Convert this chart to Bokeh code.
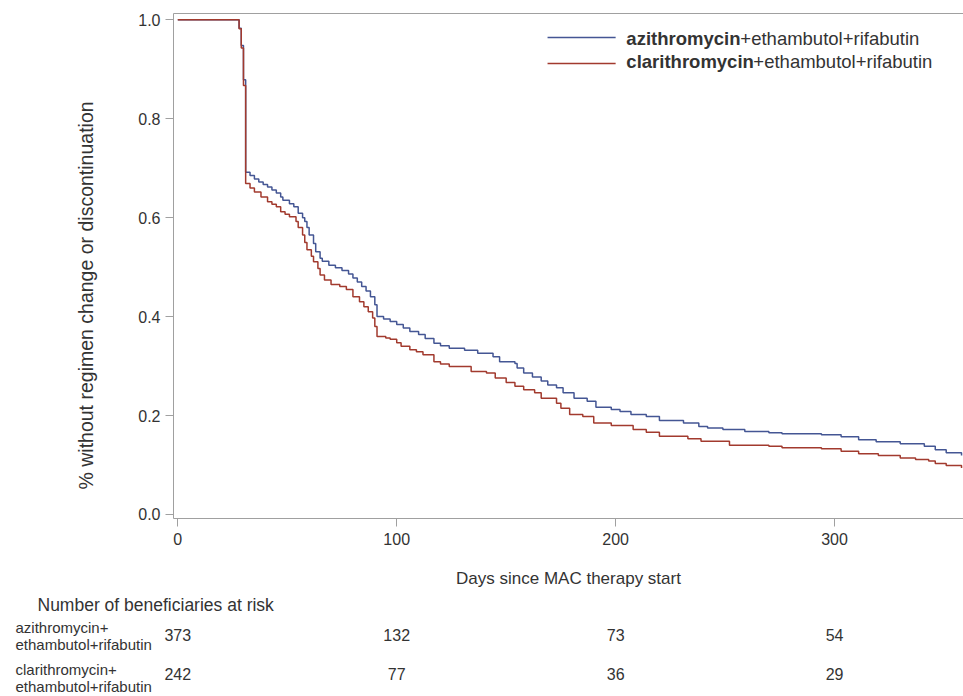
from bokeh.plotting import figure
from bokeh.models import Range1d, FixedTicker, PrintfTickFormatter, LinearAxis, Title
from bokeh.layouts import column
from bokeh.embed import file_html
from bokeh.resources import INLINE
from bokeh.core.properties import value

# ---------------- data ----------------
azi_days = [0, 28, 29, 30, 31, 33, 35, 37, 39, 41, 43, 45, 47, 48, 51, 53, 55, 57, 58, 59,
            60, 62, 63, 65, 66, 69, 72, 75, 78, 80, 82, 84, 86, 88, 90, 91, 94, 97, 100,
            103, 106, 110, 113, 117, 120, 124, 131, 137, 144, 147, 154, 155, 158, 162,
            166, 169, 173, 176, 181, 187, 191, 198, 202, 207, 214, 220, 231, 238, 242,
            249, 259, 270, 276, 294, 303, 311, 319, 330, 341, 346, 351, 358]
azi_surv = [1.0, 0.983, 0.948, 0.879, 0.692, 0.685, 0.678, 0.672, 0.667, 0.662, 0.656,
            0.650, 0.642, 0.635, 0.628, 0.622, 0.609, 0.600, 0.592, 0.580, 0.565, 0.548,
            0.531, 0.518, 0.512, 0.504, 0.499, 0.493, 0.486, 0.478, 0.470, 0.461, 0.452,
            0.440, 0.424, 0.400, 0.395, 0.390, 0.384, 0.377, 0.370, 0.364, 0.356, 0.346,
            0.341, 0.336, 0.332, 0.326, 0.319, 0.309, 0.305, 0.296, 0.286, 0.278, 0.270,
            0.262, 0.256, 0.246, 0.235, 0.229, 0.217, 0.212, 0.208, 0.202, 0.198, 0.190,
            0.185, 0.178, 0.175, 0.172, 0.168, 0.165, 0.163, 0.161, 0.157, 0.151, 0.147,
            0.143, 0.138, 0.131, 0.125, 0.119]

cla_days = [0, 28, 29, 30, 31, 33, 35, 38, 41, 43, 45, 47, 49, 51, 54, 55, 57, 58, 59, 61,
            62, 64, 65, 67, 70, 74, 77, 80, 83, 85, 87, 89, 90, 91, 95, 97, 100, 102, 106,
            109, 112, 117, 120, 124, 134, 141, 145, 150, 154, 158, 163, 166, 173, 175,
            179, 185, 190, 198, 208, 214, 220, 233, 239, 252, 270, 276, 294, 303, 311,
            320, 330, 337, 343, 346, 351, 358]
cla_surv = [1.0, 0.982, 0.943, 0.867, 0.669, 0.660, 0.652, 0.642, 0.632, 0.627, 0.622,
            0.612, 0.607, 0.602, 0.592, 0.580, 0.565, 0.550, 0.535, 0.522, 0.511, 0.497,
            0.484, 0.474, 0.465, 0.461, 0.455, 0.440, 0.430, 0.420, 0.410, 0.397, 0.380,
            0.360, 0.357, 0.354, 0.347, 0.340, 0.333, 0.329, 0.323, 0.309, 0.304, 0.299,
            0.289, 0.286, 0.276, 0.267, 0.259, 0.252, 0.246, 0.235, 0.225, 0.215, 0.202,
            0.198, 0.185, 0.180, 0.172, 0.166, 0.158, 0.153, 0.148, 0.140, 0.138, 0.135,
            0.133, 0.128, 0.123, 0.119, 0.114, 0.111, 0.108, 0.103, 0.099, 0.094]

x_ticks = [0, 100, 200, 300]
y_ticks = [0.0, 0.2, 0.4, 0.6, 0.8, 1.0]
series_bold = ["azithromycin", "clarithromycin"]
series_rest = "+ethambutol+rifabutin"
risk_times = [0, 100, 200, 300]
azi_at_risk = [373, 132, 73, 54]
cla_at_risk = [242, 77, 36, 29]
risk_row_labels = ["azithromycin+", "ethambutol+rifabutin",
                   "clarithromycin+", "ethambutol+rifabutin"]
x_title = "Days since MAC therapy start"
y_title = "% without regimen change or discontinuation"
risk_title = "Number of beneficiaries at risk"

# ---------------- style / geometry ----------------
FONT = "Liberation Sans"
BLUE = "#445694"
RED = "#A23A2E"
AXIS_C = "#A0A0A0"
TEXT_C = "#333333"

W = 963
H1 = 590
H2 = 106
BL, BT, BB = 173, 13, 71
X0, X1 = -1.96, 358.9
Y0, Y1 = -0.0081, 1.0127

p = figure(width=W, height=H1, x_range=Range1d(X0, X1), y_range=Range1d(Y0, Y1),
           output_backend="svg", toolbar_location=None,
           min_border_left=BL, min_border_right=0, min_border_top=BT, min_border_bottom=BB)
p.outline_line_color = None
p.xgrid.visible = False
p.ygrid.visible = False
p.background_fill_color = "white"
p.border_fill_color = "white"

for ax in (p.xaxis[0], p.yaxis[0]):
    ax.axis_line_color = AXIS_C
    ax.major_tick_line_color = AXIS_C
    ax.minor_tick_line_color = None
    ax.major_tick_in = 0
    ax.major_tick_out = 8
    ax.major_label_text_font = FONT
    ax.major_label_text_font_size = "16px"
    ax.major_label_text_color = TEXT_C
    ax.axis_label_text_font = FONT
    ax.axis_label_text_font_style = "normal"
    ax.axis_label_text_color = TEXT_C

p.xaxis.ticker = FixedTicker(ticks=x_ticks)
p.yaxis.ticker = FixedTicker(ticks=y_ticks)
p.yaxis.formatter = PrintfTickFormatter(format="%.1f")
p.xaxis.major_label_standoff = 6
p.yaxis.major_label_standoff = 5
p.xaxis.axis_label = x_title
p.xaxis.axis_label_text_font_size = "17px"
p.xaxis.axis_label_standoff = 21

top_ax = LinearAxis(ticker=FixedTicker(ticks=[]), axis_line_color=AXIS_C,
                    major_tick_out=0, major_tick_in=0, minor_tick_out=0, minor_tick_in=0,
                    major_label_standoff=0, major_label_text_font_size="0px")
p.add_layout(top_ax, "above")

# y-axis title, placed like the reference (starts near the bottom of the axis)
p.add_layout(Title(text=y_title, align="left", offset=29, standoff=78,
                   text_font=FONT, text_font_size="19.5px", text_font_style="normal",
                   text_color=TEXT_C), "left")

p.step(azi_days, azi_surv, mode="after", line_color=BLUE, line_width=1.5)
p.step(cla_days, cla_surv, mode="after", line_color=RED, line_width=1.5)

# legend (bold drug name + normal suffix)
leg_x0, leg_x1, leg_tx = 168.9, 200.0, 204.9
leg_y = [0.9643, 0.9118]
leg_ty = [0.9623, 0.9159]
bold_px = [114, 127]
for i, col in enumerate([BLUE, RED]):
    p.line([leg_x0, leg_x1], [leg_y[i], leg_y[i]], line_color=col, line_width=1.5)
    p.text(x=[leg_tx], y=[leg_ty[i]], text=[series_bold[i]], text_font=value(FONT),
           text_font_size="18.5px", text_font_style="bold", text_color=TEXT_C,
           text_align="left", text_baseline="middle")
    p.text(x=[leg_tx], y=[leg_ty[i]], text=[series_rest], x_offset=bold_px[i],
           text_font=value(FONT), text_font_size="18.5px", text_color=TEXT_C,
           text_align="left", text_baseline="middle")

# ---------------- at-risk table ----------------
# own full-width frame with the same day scale as the main plot
scale = (X1 - X0) / (W - BL)
x_left = X0 - BL * scale
page_top2, page_bot2 = H1, H1 + H2
p2 = figure(width=W, height=H2, x_range=Range1d(x_left, X1),
            y_range=Range1d(page_bot2, page_top2),
            output_backend="svg", toolbar_location=None, x_axis_type=None, y_axis_type=None,
            min_border=0)
for fig in (p, p2):
    if "frame_align" in fig.properties():
        fig.frame_align = False
p2.outline_line_color = None
p2.xgrid.visible = False
p2.ygrid.visible = False
p2.background_fill_color = "white"
p2.border_fill_color = "white"

p2.text(x=[x_left + 37 * scale], y=[604], text=[risk_title], text_font=value(FONT),
        text_font_size="17.5px", text_color=TEXT_C, text_align="left",
        text_baseline="middle")

row_label_y = [627, 644, 669, 686]
p2.text(x=[x_left + 15 * scale] * len(risk_row_labels), y=row_label_y, text=risk_row_labels,
        text_font=value(FONT), text_font_size="15px", text_color=TEXT_C,
        text_align="left", text_baseline="middle")

row_num_y = [634, 673]
for yv, vals in zip(row_num_y, [azi_at_risk, cla_at_risk]):
    p2.text(x=risk_times, y=[yv] * len(risk_times), text=[str(v) for v in vals],
            text_font=value(FONT), text_font_size="16px", text_color=TEXT_C,
            text_align="center", text_baseline="middle")

layout = column(p, p2, spacing=0)
open("out.html", "w").write(file_html(layout, INLINE))
